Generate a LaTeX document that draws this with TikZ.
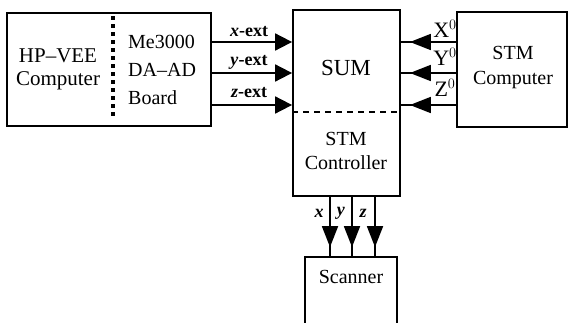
\documentclass[tikz,border=0pt]{standalone}
\usepackage{fontspec}
\setmainfont{Liberation Serif}
\usetikzlibrary{arrows.meta,calc,positioning,decorations.markings}

\begin{document}
\begin{tikzpicture}[x=1pt,y=-1pt,
  blk/.style={draw,line width=1.8pt,inner sep=0pt},
  txt/.style={font=\fontsize{20}{24}\selectfont,align=center,inner sep=0pt},
  lbl/.style={font=\fontsize{18}{20}\selectfont\bfseries,inner sep=0pt},
  sig/.style={line width=1.8pt,-{Triangle[length=17pt,width=17pt]}},
  midtip/.style={line width=1.8pt,postaction={decorate},
    decoration={markings,mark=at position -9pt with {\arrow{Triangle[length=21pt,width=16pt]}}}}]
  \useasboundingbox (0,0) rectangle (569,323);
  % boxes
  \node[blk,minimum width=204pt,minimum height=113pt] (host) at (109,69.5) {};
  \node[blk,minimum width=107pt,minimum height=186pt] (unit) at (346.5,103) {};
  \node[blk,minimum width=110pt,minimum height=115pt] (stm) at (512,69.5) {};
  \node[blk,minimum width=92pt,minimum height=90pt] (scan) at (351,302) {};
  % separators
  \draw[line width=3.4pt,dash pattern=on 3.5pt off 4.5pt] (host.north -| 113,0) ++(0,4) -- (113,116);
  \coordinate (sep) at (0,112);
  \draw[line width=1.8pt,dash pattern=on 6pt off 5pt] (unit.west |- sep) -- (unit.east |- sep);
  % texts
  \node[txt,font=\fontsize{21}{23}\selectfont] (hp) at (58,69) {HP–VEE\\Computer};
  \node[txt,align=left,anchor=west,font=\fontsize{20}{28}\selectfont] (board) at (128,70) {Me3000\\DA–AD\\Board};
  \node[txt,font=\fontsize{23}{24}\selectfont] (sum) at (346,68) {SUM};
  \node[txt] (ctl) at (346,151) {STM\\Controller};
  \node[txt,font=\fontsize{20}{25}\selectfont] (stmtxt) at (513,68) {STM\\Computer};
  \node[txt] (scantxt) at (351,277) {Scanner};
  % rows and columns of the signal lines
  \coordinate (r1) at (0,42);
  \coordinate (r2) at (0,73);
  \coordinate (r3) at (0,105);
  \coordinate (c1) at (330,0);
  \coordinate (c2) at (352,0);
  \coordinate (c3) at (375,0);
  \draw[sig] (host.east |- r1) -- (unit.west |- r1);
  \draw[sig] (host.east |- r2) -- (unit.west |- r2);
  \draw[sig] (host.east |- r3) -- (unit.west |- r3);
  \draw[midtip] (stm.west |- r1) -- (unit.east |- r1);
  \draw[midtip] (stm.west |- r2) -- (unit.east |- r2);
  \draw[midtip] (stm.west |- r3) -- (unit.east |- r3);
  \draw[midtip] (unit.south -| c1) -- (scan.north -| c1);
  \draw[midtip] (unit.south -| c2) -- (scan.north -| c2);
  \draw[midtip] (unit.south -| c3) -- (scan.north -| c3);
  % labels
  \node[lbl] (lx) at (249,32) {\textit{x}-ext};
  \node[lbl] (ly) at (249,62) {\textit{y}-ext};
  \node[lbl] (lz) at (249,93) {\textit{z}-ext};
  \node[txt,font=\fontsize{22}{24}\selectfont] (X0) at (445,29) {X$^0$};
  \node[txt,font=\fontsize{22}{24}\selectfont] (Y0) at (445,57) {Y$^0$};
  \node[txt,font=\fontsize{22}{24}\selectfont] (Z0) at (445,88) {Z$^0$};
  \node[lbl] (dx) at (319,213) {\textit{x}};
  \node[lbl] (dy) at (341,213) {\textit{y}};
  \node[lbl] (dz) at (363,213) {\textit{z}};
\end{tikzpicture}
\end{document}
